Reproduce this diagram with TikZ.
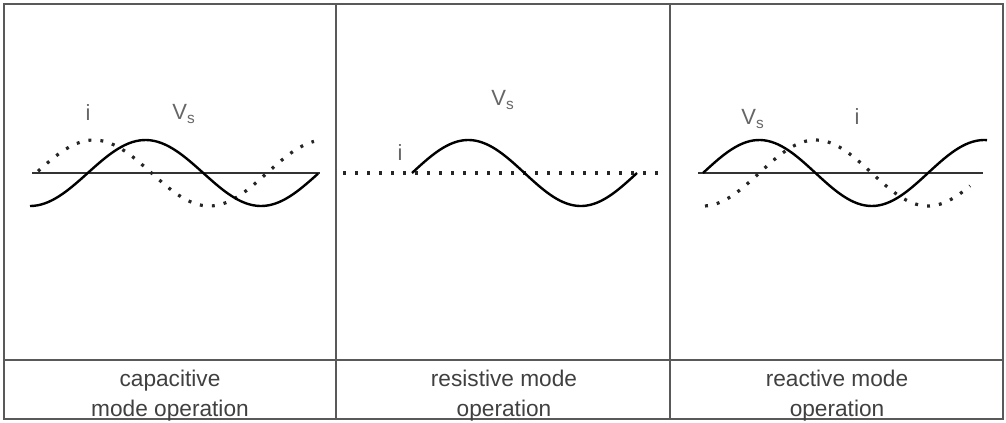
\documentclass[tikz,border=0pt]{standalone}
\usepackage{fontspec}
\setmainfont{Liberation Sans}
\usepackage{tikz}
\usetikzlibrary{positioning}
\tikzset{
    frame/.style={draw=black!65, line width=1.2pt},
    axis/.style={draw=black!80, line width=1pt},
    vwave/.style={draw=black, line width=1.8pt, smooth, samples=80},
    iwave/.style={draw=black!85, line width=2.4pt, dash pattern=on 2.2pt off 6.8pt, smooth, samples=80},
    sigLabel/.style={text=black!60, inner sep=0pt, font=\fontsize{16.5}{19}\selectfont},
    caption/.style={text=black!75, inner sep=0pt, align=center, anchor=north, font=\fontsize{17}{22.5}\selectfont}
}

\begin{document}
\begin{tikzpicture}[x=0.75pt, y=-0.75pt]
    \useasboundingbox (0,0) rectangle (1006,422);

    % Frame
    \draw [frame] (4,4) rectangle (1003,419);
    \draw [frame] (336,4) -- (336,419);
    \draw [frame] (670,4) -- (670,419);
    \draw [frame] (4,360) -- (1003,360);

    % Capacitive mode
    \draw [axis] (32,173) -- (320,173);
    \draw [iwave] plot[domain=38:314] (\x, {173 - 33*sin((\x-36)/231*360)});
    \draw [vwave] plot[domain=30:318] (\x, {173 + 33*cos((\x-30)/231*360)});
    \node [sigLabel] (i1) at (88,113) {i};
    \node [sigLabel] (vs1) at (184,114) {V\textsubscript{s}};

    % Resistive mode
    \draw [iwave] (343,173) -- (666,173);
    \draw [vwave] plot[domain=412:637] (\x, {173 - 33*sin((\x-412)/225*360)});
    \node [sigLabel] (i2) at (400,153) {i};
    \node [sigLabel] (vs2) at (503,100) {V\textsubscript{s}};

    % Reactive mode
    \draw [axis] (698,173) -- (983,173);
    \draw [iwave] plot[domain=705:970] (\x, {173 + 33*cos((\x-703)/225*360)});
    \draw [vwave] plot[domain=703:987] (\x, {173 - 33*sin((\x-703)/225*360)});
    \node [sigLabel] (vs3) at (753,119) {V\textsubscript{s}};
    \node [sigLabel] (i3) at (857,117) {i};

    % Captions
    \node [caption] (cap1) at (170,370) {capacitive\\mode operation};
    \node [caption] (cap2) at (504,370) {resistive mode\\operation};
    \node [caption] (cap3) at (837,370) {reactive mode\\operation};
\end{tikzpicture}
\end{document}
